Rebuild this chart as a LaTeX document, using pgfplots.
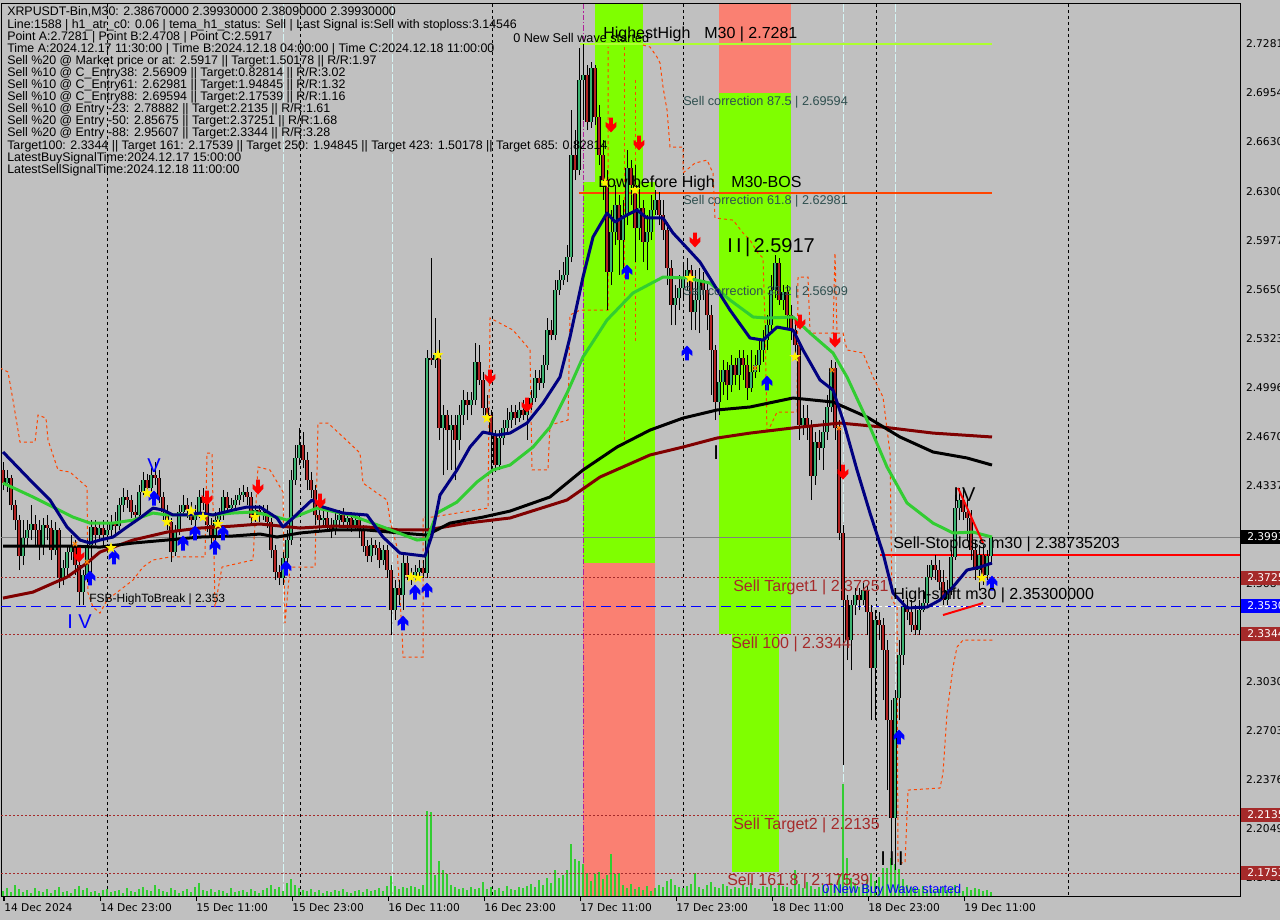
\documentclass[border=0pt]{standalone}
\usepackage{fontspec}
\setmainfont{Liberation Sans}
\newfontfamily\dejavu{DejaVu Sans}
\usepackage{pgfplots}
\usepackage{pgfplotstable}
\pgfplotsset{compat=1.18}

\definecolor{mtbg}{HTML}{C0C0C0}
\definecolor{zonegreen}{HTML}{7FFF00}
\definecolor{zonesalmon}{HTML}{FA8072}
\definecolor{bull}{HTML}{3CB371}
\definecolor{bear}{HTML}{B22222}
\definecolor{maroonma}{HTML}{800000}
\definecolor{limema}{HTML}{32CD32}
\definecolor{navyma}{HTML}{000080}
\definecolor{lvlbrown}{HTML}{A52A2A}
\definecolor{corr}{HTML}{2F4F4F}
\definecolor{trail}{HTML}{FF4500}
\definecolor{hh}{HTML}{ADFF2F}
\definecolor{sepcyan}{HTML}{D4F4F4}
\definecolor{magline}{HTML}{B0209A}

% candles: x = pixel column, o h l c in price, v = volume (px height)
\pgfplotstableread{
x o h l c v
3 2.4441 2.4494 2.4307 2.4354 6
7 2.4354 2.4441 2.4294 2.4387 9
11 2.4387 2.4407 2.4174 2.4207 5
15 2.4207 2.4241 2.4041 2.4107 12
19 2.4107 2.4141 2.3774 2.3867 8
23 2.3867 2.4107 2.3807 2.3987 5
27 2.3987 2.4107 2.3941 2.4041 7
31 2.4041 2.4207 2.3974 2.4081 4
35 2.4081 2.4141 2.3941 2.4041 9
39 2.4041 2.4107 2.3841 2.3941 6
43 2.3941 2.4121 2.3874 2.4074 5
47 2.4074 2.4141 2.3974 2.4054 8
51 2.4054 2.4107 2.3841 2.3907 4
55 2.3907 2.4094 2.3874 2.4041 7
59 2.4041 2.4054 2.3654 2.3721 10
63 2.3721 2.3841 2.3674 2.3787 5
67 2.3787 2.3941 2.3741 2.3894 6
71 2.3894 2.4007 2.3841 2.3941 4
75 2.3941 2.3974 2.3741 2.3807 8
79 2.3807 2.3841 2.3541 2.3627 11
83 2.3627 2.3774 2.3541 2.3741 7
87 2.3741 2.3974 2.3694 2.3941 9
91 2.3941 2.4107 2.3741 2.4061 5
95 2.4061 2.4107 2.3941 2.4007 6
99 2.4007 2.4094 2.3974 2.4054 4
103 2.4054 2.4107 2.3941 2.4007 7
107 2.4007 2.4094 2.3961 2.4041 8
111 2.4041 2.4141 2.3987 2.4094 5
115 2.4094 2.4161 2.4007 2.4067 6
119 2.4067 2.4254 2.4041 2.4207 7
123 2.4207 2.4321 2.4161 2.4261 4
127 2.4261 2.4307 2.4187 2.4241 9
131 2.4241 2.4274 2.4121 2.4161 6
135 2.4161 2.4207 2.4094 2.4141 5
139 2.4141 2.4341 2.4121 2.4294 8
143 2.4294 2.4427 2.4274 2.4374 10
147 2.4374 2.4414 2.4274 2.4321 7
151 2.4321 2.4454 2.4294 2.4407 6
155 2.4407 2.4494 2.4341 2.4387 12
159 2.4387 2.4441 2.4221 2.4261 8
163 2.4261 2.4294 2.4107 2.4161 6
167 2.4161 2.4207 2.4041 2.4094 5
171 2.4094 2.4121 2.3827 2.3894 9
175 2.3894 2.4074 2.3867 2.4041 7
179 2.4041 2.4207 2.4007 2.4161 4
183 2.4161 2.4274 2.4141 2.4207 6
187 2.4207 2.4254 2.4121 2.4174 8
191 2.4174 2.4227 2.4074 2.4107 5
195 2.4107 2.4207 2.4054 2.4154 10
199 2.4154 2.4307 2.4121 2.4261 14
203 2.4261 2.4321 2.4174 2.4221 7
207 2.4221 2.4254 2.4027 2.4074 6
211 2.4074 2.4121 2.3941 2.4007 8
215 2.4007 2.4161 2.3974 2.4107 5
219 2.4107 2.4187 2.4054 2.4141 7
223 2.4141 2.4307 2.4107 2.4261 6
227 2.4261 2.4294 2.4161 2.4187 4
231 2.4187 2.4254 2.4161 2.4207 9
235 2.4207 2.4274 2.4174 2.4241 5
239 2.4241 2.4321 2.4207 2.4274 6
243 2.4274 2.4341 2.4227 2.4294 7
247 2.4294 2.4327 2.4207 2.4261 5
251 2.4261 2.4294 2.4074 2.4121 8
255 2.4121 2.4207 2.4094 2.4174 6
259 2.4174 2.4207 2.4094 2.4141 4
263 2.4141 2.4207 2.4107 2.4161 7
267 2.4161 2.4207 2.4054 2.4094 9
271 2.4094 2.4121 2.3854 2.3907 12
275 2.3907 2.3941 2.3707 2.3761 8
279 2.3761 2.3807 2.3674 2.3721 10
283 2.3721 2.3894 2.3674 2.3854 6
287 2.3854 2.4041 2.3807 2.3974 14
291 2.3974 2.4441 2.3941 2.4374 18
295 2.4374 2.4607 2.4341 2.4521 12
299 2.4521 2.4721 2.4474 2.4607 9
303 2.4607 2.4694 2.4454 2.4507 7
307 2.4507 2.4561 2.4307 2.4374 6
311 2.4374 2.4427 2.4254 2.4307 8
315 2.4307 2.4341 2.4074 2.4141 5
319 2.4141 2.4187 2.4041 2.4107 7
323 2.4107 2.4174 2.4054 2.4121 4
327 2.4121 2.4161 2.4027 2.4074 6
331 2.4074 2.4121 2.3987 2.4041 5
335 2.4041 2.4161 2.4007 2.4107 7
339 2.4107 2.4174 2.4074 2.4141 6
343 2.4141 2.4187 2.4054 2.4094 8
347 2.4094 2.4161 2.4041 2.4121 5
351 2.4121 2.4161 2.4027 2.4074 4
355 2.4074 2.4141 2.4041 2.4107 6
359 2.4107 2.4141 2.3987 2.4041 7
363 2.4041 2.4074 2.3894 2.3934 5
367 2.3934 2.3974 2.3827 2.3867 8
371 2.3867 2.3987 2.3827 2.3941 6
375 2.3941 2.3974 2.3874 2.3921 7
379 2.3921 2.3961 2.3787 2.3841 9
383 2.3841 2.3941 2.3807 2.3907 6
387 2.3907 2.3941 2.3721 2.3774 11
391 2.3774 2.3807 2.3341 2.3507 21
395 2.3507 2.3707 2.3441 2.3654 11
399 2.3654 2.3707 2.3541 2.3607 8
403 2.3607 2.3874 2.3507 2.3821 10
407 2.3821 2.3867 2.3707 2.3741 9
411 2.3741 2.3787 2.3674 2.3721 11
415 2.3721 2.3807 2.3694 2.3761 10
419 2.3761 2.3841 2.3721 2.3787 8
423 2.3787 2.3841 2.3721 2.3754 12
427 2.3754 2.5241 2.3721 2.5187 86
431 2.5187 2.5854 2.5141 2.5174 85
435 2.5174 2.5454 2.5121 2.5207 22
439 2.5207 2.5307 2.4641 2.4721 36
443 2.4721 2.4874 2.4407 2.4807 27
447 2.4807 2.4841 2.4441 2.4707 23
451 2.4707 2.4807 2.4441 2.4741 12
455 2.4741 2.4807 2.4374 2.4641 10
459 2.4641 2.4874 2.4574 2.4807 8
463 2.4807 2.4974 2.4741 2.4907 9
467 2.4907 2.4961 2.4774 2.4874 7
471 2.4874 2.4961 2.4807 2.4907 10
475 2.4907 2.5287 2.4874 2.5161 8
479 2.5161 2.5274 2.5007 2.5041 9
483 2.5041 2.5094 2.4807 2.4854 15
487 2.4854 2.4941 2.4774 2.4807 8
491 2.4807 2.4841 2.4441 2.4674 10
495 2.4674 2.4707 2.4427 2.4474 7
499 2.4474 2.4707 2.4441 2.4654 9
503 2.4654 2.4774 2.4607 2.4721 6
507 2.4721 2.4854 2.4694 2.4774 11
511 2.4774 2.4874 2.4721 2.4827 8
515 2.4827 2.4874 2.4741 2.4787 7
519 2.4787 2.4894 2.4761 2.4841 10
523 2.4841 2.4907 2.4774 2.4807 9
527 2.4807 2.4921 2.4641 2.4874 11
531 2.4874 2.4974 2.4841 2.4921 13
535 2.4921 2.5107 2.4894 2.5054 10
539 2.5054 2.5107 2.4974 2.5021 17
543 2.5021 2.5207 2.4987 2.5141 12
547 2.5141 2.5454 2.5107 2.5374 19
551 2.5374 2.5441 2.5307 2.5341 14
555 2.5341 2.5707 2.5307 2.5641 27
559 2.5641 2.5774 2.5607 2.5707 19
563 2.5707 2.5827 2.5674 2.5741 22
567 2.5741 2.5941 2.5694 2.5861 27
571 2.5861 2.6841 2.5827 2.6541 53
575 2.6541 2.6707 2.6374 2.6441 38
579 2.6441 2.7254 2.6407 2.7041 36
583 2.7041 2.7281 2.6774 2.7074 33
587 2.7074 2.7141 2.6707 2.6761 24
591 2.6761 2.7161 2.6721 2.7121 16
595 2.7121 2.7141 2.6741 2.6794 23
599 2.6794 2.6874 2.6474 2.6541 25
603 2.6541 2.6641 2.6241 2.6374 18
607 2.6374 2.6441 2.5507 2.5761 22
611 2.5761 2.6174 2.5674 2.6027 43
615 2.6027 2.6341 2.5941 2.6207 23
619 2.6207 2.6274 2.5741 2.5974 24
623 2.5974 2.6241 2.5774 2.6141 12
627 2.6141 2.6574 2.6074 2.6454 9
631 2.6454 2.6507 2.6207 2.6341 13
635 2.6341 2.6474 2.5827 2.6054 8
639 2.6054 2.6341 2.5974 2.6187 10
643 2.6187 2.6241 2.5827 2.5961 7
647 2.5961 2.6141 2.5774 2.6027 11
651 2.6027 2.6274 2.5974 2.6174 6
655 2.6174 2.6307 2.6141 2.6241 9
659 2.6241 2.6294 2.6074 2.6141 12
663 2.6141 2.6241 2.5974 2.6041 10
667 2.6041 2.6094 2.5674 2.5787 16
671 2.5787 2.5841 2.5407 2.5541 18
675 2.5541 2.5674 2.5407 2.5587 12
679 2.5587 2.5741 2.5507 2.5654 10
683 2.5654 2.5807 2.5574 2.5721 9
687 2.5721 2.5854 2.5641 2.5774 11
691 2.5774 2.5807 2.5374 2.5494 13
695 2.5494 2.5774 2.5374 2.5574 24
699 2.5574 2.5787 2.5354 2.5707 10
703 2.5707 2.5761 2.5574 2.5641 8
707 2.5641 2.5694 2.5374 2.5474 12
711 2.5474 2.5541 2.4941 2.5241 15
715 2.5241 2.5274 2.4774 2.4894 10
719 2.4894 2.5107 2.4807 2.5027 9
723 2.5027 2.5174 2.4941 2.5107 13
727 2.5107 2.5161 2.4907 2.5007 11
731 2.5007 2.5207 2.4961 2.5141 8
735 2.5141 2.5187 2.5007 2.5074 10
739 2.5074 2.5241 2.4974 2.5187 9
743 2.5187 2.5241 2.5041 2.5141 12
747 2.5141 2.5207 2.4907 2.4987 10
751 2.4987 2.5241 2.4961 2.5094 14
755 2.5094 2.5207 2.5054 2.5141 9
759 2.5141 2.5307 2.5094 2.5241 8
763 2.5241 2.5374 2.5161 2.5307 11
767 2.5307 2.5474 2.5241 2.5407 10
771 2.5407 2.5741 2.5374 2.5641 12
775 2.5641 2.5874 2.5587 2.5821 9
779 2.5821 2.5854 2.5541 2.5574 14
783 2.5574 2.5674 2.5507 2.5627 11
787 2.5627 2.5674 2.5374 2.5474 10
791 2.5474 2.5541 2.5307 2.5374 8
795 2.5374 2.5441 2.5174 2.5274 27
799 2.5274 2.5307 2.4641 2.4741 13
803 2.4741 2.4874 2.4674 2.4787 9
807 2.4787 2.4874 2.4641 2.4741 15
811 2.4741 2.4774 2.4241 2.4401 11
815 2.4401 2.4694 2.4341 2.4627 8
819 2.4627 2.4707 2.4507 2.4587 10
823 2.4587 2.4774 2.4441 2.4694 12
827 2.4694 2.4941 2.4641 2.4861 9
831 2.4861 2.5174 2.4827 2.5121 14
835 2.5121 2.5161 2.4641 2.4721 11
839 2.4721 2.4774 2.3974 2.4021 22
843 2.4021 2.4074 2.2474 2.3574 113
847 2.3574 2.3607 2.3174 2.3307 39
851 2.3307 2.3574 2.3107 2.3541 19
855 2.3541 2.3654 2.3474 2.3607 14
859 2.3607 2.3654 2.3507 2.3574 10
863 2.3574 2.3687 2.3541 2.3641 12
867 2.3641 2.3674 2.3341 2.3494 18
871 2.3494 2.3541 2.2774 2.3121 24
875 2.3121 2.3507 2.2774 2.3441 16
879 2.3441 2.3494 2.3307 2.3407 20
883 2.3407 2.3454 2.2907 2.3241 29
887 2.3241 2.3307 2.2307 2.2774 29
891 2.2774 2.2907 2.1807 2.2121 39
895 2.2121 2.2974 2.1774 2.2921 33
899 2.2921 2.3307 2.2774 2.3207 28
903 2.3207 2.3574 2.3141 2.3527 18
907 2.3527 2.3587 2.3441 2.3494 12
911 2.3494 2.3574 2.3361 2.3407 10
915 2.3407 2.3541 2.3341 2.3374 9
919 2.3374 2.3574 2.3341 2.3507 8
923 2.3507 2.3641 2.3494 2.3554 11
927 2.3554 2.3807 2.3521 2.3727 7
931 2.3727 2.3841 2.3707 2.3807 9
935 2.3807 2.3874 2.3707 2.3774 6
939 2.3774 2.3841 2.3641 2.3694 8
943 2.3694 2.3774 2.3541 2.3574 10
947 2.3574 2.3707 2.3541 2.3641 7
951 2.3641 2.3907 2.3607 2.3861 9
955 2.3861 2.4274 2.3841 2.4187 12
959 2.4187 2.4321 2.4107 2.4241 8
963 2.4241 2.4307 2.4107 2.4161 6
967 2.4161 2.4241 2.3974 2.4121 10
971 2.4121 2.4174 2.3841 2.3907 7
975 2.3907 2.3974 2.3707 2.3774 9
979 2.3774 2.3941 2.3641 2.3874 8
983 2.3874 2.3941 2.3674 2.3741 6
987 2.3741 2.3907 2.3707 2.3867 7
991 2.3867 2.3993 2.3809 2.3993 5
}\candles

\pgfdeclareplotmark{dnarrow}{%
  \pgfpathmoveto{\pgfpoint{-1.4pt}{5.6pt}}%
  \pgfpathlineto{\pgfpoint{1.4pt}{5.6pt}}%
  \pgfpathlineto{\pgfpoint{1.4pt}{0.2pt}}%
  \pgfpathlineto{\pgfpoint{4.1pt}{2.3pt}}%
  \pgfpathlineto{\pgfpoint{4.1pt}{-1.1pt}}%
  \pgfpathlineto{\pgfpoint{0pt}{-5.6pt}}%
  \pgfpathlineto{\pgfpoint{-4.1pt}{-1.1pt}}%
  \pgfpathlineto{\pgfpoint{-4.1pt}{2.3pt}}%
  \pgfpathlineto{\pgfpoint{-1.4pt}{0.2pt}}%
  \pgfpathclose\pgfusepathqfill}
\pgfdeclareplotmark{uparrow}{%
  \pgfpathmoveto{\pgfpoint{-1.4pt}{-5.6pt}}%
  \pgfpathlineto{\pgfpoint{1.4pt}{-5.6pt}}%
  \pgfpathlineto{\pgfpoint{1.4pt}{-0.2pt}}%
  \pgfpathlineto{\pgfpoint{4.1pt}{-2.3pt}}%
  \pgfpathlineto{\pgfpoint{4.1pt}{1.1pt}}%
  \pgfpathlineto{\pgfpoint{0pt}{5.6pt}}%
  \pgfpathlineto{\pgfpoint{-4.1pt}{1.1pt}}%
  \pgfpathlineto{\pgfpoint{-4.1pt}{-2.3pt}}%
  \pgfpathlineto{\pgfpoint{-1.4pt}{-0.2pt}}%
  \pgfpathclose\pgfusepathqfill}
\pgfdeclareplotmark{ystar}{%
  \pgfpathmoveto{\pgfpoint{0pt}{4.4pt}}%
  \pgfpathlineto{\pgfpoint{1.03pt}{1.42pt}}%
  \pgfpathlineto{\pgfpoint{4.18pt}{1.36pt}}%
  \pgfpathlineto{\pgfpoint{1.67pt}{-0.54pt}}%
  \pgfpathlineto{\pgfpoint{2.59pt}{-3.56pt}}%
  \pgfpathlineto{\pgfpoint{0pt}{-1.76pt}}%
  \pgfpathlineto{\pgfpoint{-2.59pt}{-3.56pt}}%
  \pgfpathlineto{\pgfpoint{-1.67pt}{-0.54pt}}%
  \pgfpathlineto{\pgfpoint{-4.18pt}{1.36pt}}%
  \pgfpathlineto{\pgfpoint{-1.03pt}{1.42pt}}%
  \pgfpathclose\pgfusepathqfill}

\newcommand{\fs}[1]{\fontsize{#1}{#1}\selectfont}

\begin{document}
\begin{tikzpicture}
\useasboundingbox (0,0) rectangle (960pt,690pt);
\fill[mtbg] (0,0) rectangle (960pt,690pt);

% background objects in pixel coordinates (origin top left)
\begin{scope}[x=0.75pt, y=-0.75pt, yshift=690pt]
  \fill[zonegreen] (595,4) rectangle (643,563);
  \fill[zonegreen] (583,182) rectangle (655,563);
  \fill[zonesalmon] (583,563) rectangle (655,897);
  \fill[zonesalmon] (719,4) rectangle (791,93);
  \fill[zonegreen] (719,93) rectangle (791,634);
  \fill[zonegreen] (732,634) rectangle (779,872);
  \foreach \xx in {283,392,843,895}
    \draw[sepcyan, line width=0.75pt, dash pattern=on 6pt off 1.5pt] (\xx,4) -- (\xx,897);
  \draw[magline, line width=0.75pt, dash pattern=on 4pt off 1.5pt on 1pt off 1.5pt] (583,4) -- (583,877);
  \foreach \xx in {107,300,492,683,876,1068}
    \draw[black, line width=0.75pt, dash pattern=on 2.25pt off 2.25pt] (\xx,4) -- (\xx,897);
\end{scope}

% volume
\begin{axis}[at={(0.75pt,17.25pt)}, anchor=south west, scale only axis,
  width=929.25pt, height=669.75pt, xmin=1, xmax=1240, ymin=0, ymax=893,
  axis lines=none, ticks=none]
\addplot[forget plot, ycomb, color=limema, draw=limema, line width=0.9pt, mark=none]
  table[x=x, y=v]{\candles};
\end{axis}

% price chart
\begin{axis}[at={(0.75pt,17.25pt)}, anchor=south west, scale only axis,
  width=929.25pt, height=669.75pt,
  xmin=1, xmax=1240, ymin=2.159433, ymax=2.754766,
  axis line style={black, line width=0.75pt},
  xtick pos=bottom, ytick pos=right, tick align=outside,
  major tick length=3pt,
  xtick style={black, line width=0.75pt},
  ytick style={draw=none},
  xtick={4,100,196,292,388,484,580,676,772,868,964},
  xticklabels={14 Dec 2024,14 Dec 23:00,15 Dec 11:00,15 Dec 23:00,16 Dec 11:00,16 Dec 23:00,17 Dec 11:00,17 Dec 23:00,18 Dec 11:00,18 Dec 23:00,19 Dec 11:00},
  xticklabel style={font=\dejavu\fs{8}, anchor=north west, inner sep=0pt, yshift=-1.5pt},
  ytick={2.7281,2.6954,2.6627,2.6300,2.5973,2.5646,2.5319,2.4992,2.4665,2.4338,2.3684,2.3030,2.2703,2.2376,2.2049,2.1722},
  yticklabels={2.7281,2.6954,2.6630,2.6300,2.5977,2.5650,2.5323,2.4996,2.4670,2.4337,2.3684,2.3030,2.2703,2.2376,2.2049,2.1722},
  yticklabel style={font=\dejavu\fs{8}, anchor=west, inner sep=0pt, xshift=1.3pt},
  clip=true]

% level lines
\draw[lvlbrown, line width=0.75pt, dash pattern=on 1.5pt off 1.5pt] (axis cs:1,2.37251) -- (axis cs:1240,2.37251);
\draw[lvlbrown, line width=0.75pt, dash pattern=on 1.5pt off 1.5pt] (axis cs:1,2.3344) -- (axis cs:1240,2.3344);
\draw[lvlbrown, line width=0.75pt, dash pattern=on 1.5pt off 1.5pt] (axis cs:1,2.2135) -- (axis cs:1240,2.2135);
\draw[lvlbrown, line width=0.75pt, dash pattern=on 1.5pt off 1.5pt] (axis cs:1,2.17539) -- (axis cs:1240,2.17539);
\draw[blue, line width=0.75pt, dash pattern=on 7.5pt off 3.75pt] (axis cs:1,2.353) -- (axis cs:1240,2.353);
\draw[white, line width=0.75pt, dash pattern=on 2.25pt off 2.25pt] (axis cs:843,2.353) -- (axis cs:990,2.353);
\draw[gray, line width=0.75pt] (axis cs:1,2.3993) -- (axis cs:1240,2.3993);
\draw[red, line width=1.5pt] (axis cs:880,2.38735) -- (axis cs:1240,2.38735);
\draw[hh, line width=1.5pt] (axis cs:580,2.7281) -- (axis cs:992,2.7281);
\draw[trail, line width=1.5pt] (axis cs:579,2.6285) -- (axis cs:992,2.6285);

% trailing stop (dashed)
\addplot[trail, line width=0.75pt, dash pattern=on 2.25pt off 2.25pt] coordinates {
(0,2.5121) (8,2.5094) (13,2.4907) (20,2.4627) (35,2.4627) (38,2.4807) (46,2.4787) (48,2.4641)
(58,2.4441) (70,2.4427) (87,2.4327) (88,2.3621) (93,2.3527) (100,2.3487) (107,2.3574)
(133,2.3707) (143,2.3794) (153,2.3841) (170,2.3861) (205,2.3861) (207,2.4554) (212,2.4554)
(215,2.3527) (222,2.3794) (253,2.3841) (258,2.4461) (270,2.4441) (283,2.4294) (285,2.3421)
(290,2.3794) (315,2.3794) (318,2.4754) (328,2.4754) (343,2.4661) (360,2.4554) (363,2.4354)
(377,2.4287) (387,2.4241) (390,2.4107) (397,2.3927) (402,2.3354) (403,2.3194) (423,2.3194)
(423,2.4127) (432,2.4127) (488,2.4187) (490,2.5454) (513,2.5374) (530,2.5241) (532,2.4441)
(548,2.4441) (550,2.4741) (568,2.4774) (570,2.5474) (580,2.5507) (608,2.5507) (608,2.7261)};
\addplot[trail, line width=0.75pt, dash pattern=on 2.25pt off 2.25pt] coordinates {(624,2.7261) (624,2.4621)};
\addplot[trail, line width=0.75pt, dash pattern=on 2.25pt off 2.25pt] coordinates {(635,2.7041) (635,2.5287)};
\addplot[trail, line width=0.75pt, dash pattern=on 2.25pt off 2.25pt] coordinates {
(643,2.7274) (650,2.7261) (657,2.7194) (660,2.7154) (663,2.6994) (667,2.6841) (670,2.6594)
(683,2.6594) (683,2.6421) (695,2.6487) (707,2.6507) (713,2.6421) (715,2.6121) (733,2.6107)
(743,2.6021) (750,2.5974) (758,2.5887) (763,2.5854) (765,2.5421) (767,2.4687) (777,2.4827)
(797,2.4827) (798,2.5727) (808,2.5727) (810,2.5354) (833,2.5354) (835,2.5887) (837,2.5354)
(843,2.5354) (847,2.5241) (863,2.5221) (873,2.5061) (883,2.4927) (890,2.4554) (892,2.3574)
(897,2.3527) (898,2.1821) (905,2.1821) (908,2.2307) (940,2.2321) (943,2.2421) (947,2.2821)
(953,2.3127) (957,2.3261) (963,2.3307) (993,2.3307)};

% candles: wicks, then bodies (outline, then fill colour)
\addplot[forget plot, draw=none, mark=none,
  error bars/.cd, y dir=plus, y explicit, error mark=none,
  error bar style={draw=black, solid, line width=0.75pt}]
  table[x=x, y=l, y error expr=\thisrow{h}-\thisrow{l}]{\candles};
\addplot[forget plot, draw=none, mark=none,
  y filter/.expression={\thisrow{c}>=\thisrow{o} ? y : nan},
  error bars/.cd, y dir=plus, y explicit, error mark=none,
  error bar style={draw=black, solid, line width=2.4pt}]
  table[x=x, y=o, y error expr=\thisrow{c}-\thisrow{o}]{\candles};
\addplot[forget plot, draw=none, mark=none,
  y filter/.expression={\thisrow{c}>=\thisrow{o} ? y : nan},
  error bars/.cd, y dir=plus, y explicit, error mark=none,
  error bar style={draw=bull, solid, line width=1pt}]
  table[x=x, y=o, y error expr=\thisrow{c}-\thisrow{o}]{\candles};
\addplot[forget plot, draw=none, mark=none,
  y filter/.expression={\thisrow{c}<\thisrow{o} ? y : nan},
  error bars/.cd, y dir=plus, y explicit, error mark=none,
  error bar style={draw=black, solid, line width=2.4pt}]
  table[x=x, y=c, y error expr=\thisrow{o}-\thisrow{c}]{\candles};
\addplot[forget plot, draw=none, mark=none,
  y filter/.expression={\thisrow{c}<\thisrow{o} ? y : nan},
  error bars/.cd, y dir=plus, y explicit, error mark=none,
  error bar style={draw=bear, solid, line width=1pt}]
  table[x=x, y=c, y error expr=\thisrow{o}-\thisrow{c}]{\candles};

% moving averages
\addplot[maroonma, line width=2.25pt, line join=round] coordinates {
(3,2.3587) (33,2.3627) (67,2.3727) (87,2.3821) (100,2.3894) (133,2.3974) (167,2.4027)
(200,2.4054) (233,2.4067) (260,2.4081) (300,2.4054) (333,2.4067) (367,2.4061) (400,2.4041)
(427,2.4041) (467,2.4087) (510,2.4121) (567,2.4241) (600,2.4394) (650,2.4541) (683,2.4594)
(717,2.4654) (750,2.4687) (800,2.4727) (840,2.4754) (883,2.4727) (933,2.4687) (992,2.4661)};
\addplot[black, line width=2.25pt, line join=round] coordinates {
(3,2.3934) (67,2.3934) (100,2.3927) (133,2.3954) (167,2.3974) (200,2.3994) (233,2.4001)
(260,2.4014) (277,2.3994) (300,2.4021) (333,2.4041) (367,2.4041) (400,2.4021) (427,2.4007)
(450,2.4087) (483,2.4127) (510,2.4167) (550,2.4261) (583,2.4441) (617,2.4594) (650,2.4707)
(683,2.4787) (717,2.4841) (750,2.4861) (793,2.4921) (833,2.4894) (867,2.4794) (900,2.4661)
(933,2.4561) (967,2.4521) (992,2.4474)};
\addplot[limema, line width=2.25pt, line join=round] coordinates {
(3,2.4354) (33,2.4261) (53,2.4194) (73,2.4127) (90,2.4087) (113,2.4087) (133,2.4107)
(153,2.4154) (167,2.4141) (213,2.4141) (233,2.4154) (253,2.4161) (277,2.4127) (287,2.4107)
(317,2.4187) (350,2.4141) (383,2.4061) (417,2.3974) (427,2.3981) (437,2.4154) (457,2.4227)
(477,2.4361) (493,2.4441) (510,2.4474) (533,2.4594) (550,2.4727) (567,2.4954) (583,2.5194)
(607,2.5441) (633,2.5621) (663,2.5727) (687,2.5721) (710,2.5687) (730,2.5574) (753,2.5461)
(767,2.5454) (793,2.5461) (810,2.5354) (833,2.5221) (847,2.5061) (867,2.4774) (887,2.4461)
(907,2.4221) (933,2.4087) (953,2.4021) (973,2.4027) (992,2.3994)};
\addplot[navyma, line width=2.25pt, line join=round] coordinates {
(3,2.4561) (33,2.4354) (50,2.4241) (67,2.4061) (80,2.3974) (90,2.3954) (100,2.3974)
(113,2.3994) (127,2.4061) (140,2.4121) (153,2.4187) (163,2.4174) (173,2.4141) (187,2.4141)
(200,2.4154) (213,2.4141) (233,2.4174) (247,2.4194) (260,2.4194) (277,2.4121) (283,2.4061)
(293,2.4121) (312,2.4241) (323,2.4194) (343,2.4154) (367,2.4141) (383,2.3994) (400,2.3887)
(425,2.3867) (432,2.4007) (440,2.4274) (457,2.4441) (470,2.4594) (483,2.4694) (497,2.4674)
(510,2.4687) (527,2.4754) (543,2.4887) (560,2.5061) (570,2.5327) (583,2.5727) (593,2.5994)
(607,2.6154) (615,2.6094) (627,2.6141) (637,2.6174) (647,2.6121) (663,2.6121) (673,2.6021)
(687,2.5921) (700,2.5827) (713,2.5687) (730,2.5507) (750,2.5321) (763,2.5307) (777,2.5394)
(793,2.5374) (803,2.5241) (820,2.5041) (833,2.4974) (843,2.4774) (857,2.4441) (870,2.4154)
(883,2.3887) (893,2.3621) (907,2.3521) (927,2.3527) (940,2.3574) (953,2.3661) (967,2.3774)
(980,2.3794) (992,2.3821)};

% wave IV lines
\addplot[red, line width=1.5pt] coordinates {(958,2.4321) (983,2.3954)};
\addplot[red, line width=1.5pt] coordinates {(943,2.3474) (983,2.3554)};

% signals
\addplot[only marks, red, mark=dnarrow] coordinates {
(79,2.3874) (207,2.4254) (258,2.4327) (320,2.4234) (490,2.5061) (527,2.4874) (611,2.6741)
(639,2.6621) (695,2.5974) (800,2.5427) (835,2.5307) (843,2.4427)};
\addplot[only marks, blue, mark=uparrow] coordinates {
(90,2.3721) (114,2.3861) (154,2.4254) (183,2.3954) (195,2.4021) (215,2.3927) (223,2.4021)
(286,2.3787) (403,2.3421) (415,2.3627) (427,2.3641) (627,2.5761) (687,2.5221) (767,2.5021)
(899,2.2661) (992,2.3687)};
\addplot[only marks, yellow, mark=ystar] coordinates {
(111,2.3921) (147,2.4287) (167,2.4094) (191,2.4167) (203,2.4127) (218,2.4081) (255,2.4127)
(411,2.3727) (418,2.3721) (438,2.5207) (487,2.4787) (605,2.6354) (635,2.6307) (690,2.5721)
(795,2.5194) (982,2.3721)};
\addplot[only marks, orange, mark=x, mark size=2.2pt, line width=0.9pt] coordinates {
(75,2.3947) (87,2.3827) (755,2.5121) (832,2.5107) (839,2.4721)};
\end{axis}

% texts and price tags in pixel coordinates
\begin{scope}[x=0.75pt, y=-0.75pt, yshift=690pt]
  \begin{scope}[every node/.style={anchor=base west, inner sep=0pt, font=\fs{9.3}}]
  \node at (7,16) {XRPUSDT-Bin,M30: 2.38670000 2.39930000 2.38090000 2.39930000};
  \node at (7,28.1) {Line:1588 | h1\_atr\_c0: 0.06 | tema\_h1\_status: Sell | Last Signal is:Sell with stoploss:3.14546};
  \node at (7,40.2) {Point A:2.7281 | Point B:2.4708 | Point C:2.5917};
  \node at (7,52.3) {Time A:2024.12.17 11:30:00 | Time B:2024.12.18 04:00:00 | Time C:2024.12.18 11:00:00};
  \node at (7,64.4) {Sell \%20 @ Market price or at: 2.5917 || Target:1.50178 || R/R:1.97};
  \node at (7,76.5) {Sell \%10 @ C\_Entry38: 2.56909 || Target:0.82814 || R/R:3.02};
  \node at (7,88.6) {Sell \%10 @ C\_Entry61: 2.62981 || Target:1.94845 || R/R:1.32};
  \node at (7,100.7) {Sell \%10 @ C\_Entry88: 2.69594 || Target:2.17539 || R/R:1.16};
  \node at (7,112.8) {Sell \%10 @ Entry -23: 2.78882 || Target:2.2135 || R/R:1.61};
  \node at (7,124.9) {Sell \%20 @ Entry -50: 2.85675 || Target:2.37251 || R/R:1.68};
  \node at (7,137) {Sell \%20 @ Entry -88: 2.95607 || Target:2.3344 || R/R:3.28};
  \node at (7,149.1) {Target100: 2.3344 || Target 161: 2.17539 || Target 250: 1.94845 || Target 423: 1.50178 || Target 685: 0.82814};
  \node at (7,161.2) {LatestBuySignalTime:2024.12.17 15:00:00};
  \node at (7,173.3) {LatestSellSignalTime:2024.12.18 11:00:00};
  \end{scope}
  \begin{scope}[every node/.style={anchor=base west, inner sep=0pt}]
  \node[font=\fs{9.5}] at (513,42.5) {0 New Sell wave started};
  \node[font=\fs{12}] at (603,39) {HighestHigh};
  \node[font=\fs{12}] at (704,39) {M30 | 2.7281};
  \node[font=\fs{9.5}, text=corr] at (683,105.5) {Sell correction 87.5 | 2.69594};
  \node[font=\fs{12}] at (598,188) {Low before High};
  \node[font=\fs{12}] at (731,188) {M30-BOS};
  \node[font=\fs{9.5}, text=corr] at (683,204.5) {Sell correction 61.8 | 2.62981};
  \node[font=\fs{15}] at (727,253) {I\,I\,|\,2.5917};
  \node[font=\fs{9.5}, text=corr] at (683,295.5) {Sell correction 38.2 | 2.56909};
  \node[font=\fs{15}] at (713,460) {I};
  \node[font=\fs{15}] at (953,502) {I\,V};
  \node[font=\fs{15}, text=blue] at (147,473) {V};
  \node[font=\fs{15}, text=blue] at (67,629) {I V};
  \node[font=\fs{12}] at (893,549) {Sell-Stoploss m30 | 2.38735203};
  \node[font=\fs{12}, text=lvlbrown] at (733,592) {Sell Target1 | 2.37251};
  \node[font=\fs{12}] at (893,600) {High-shift m30 | 2.35300000};
  \node[font=\fs{9}] at (89,603) {FSB-HighToBreak | 2.353};
  \node[font=\fs{12}, text=lvlbrown] at (731,649) {Sell 100 | 2.3344};
  \node[font=\fs{12}, text=lvlbrown] at (733,830) {Sell Target2 | 2.2135};
  \node[font=\fs{15}] at (880,865) {I\,I\,I};
  \node[font=\fs{12}, text=lvlbrown] at (727,886) {Sell 161.8 | 2.17539};
  \node[font=\fs{9.5}, text=blue] at (822,893.5) {0 New Buy Wave started};
  \end{scope}
  % price tags on the scale
  \begin{scope}[every node/.style={anchor=west, inner sep=0pt, text=white, font=\dejavu\fs{8}}]
  \fill[black] (1241,530) rectangle (1281,544); \node at (1247,537) {2.3993};
  \fill[lvlbrown] (1241,571) rectangle (1281,585); \node at (1247,578) {2.3725};
  \fill[blue] (1241,599) rectangle (1281,613); \node at (1247,606) {2.3530};
  \fill[lvlbrown] (1241,627) rectangle (1281,641); \node at (1247,634) {2.3344};
  \fill[lvlbrown] (1241,808) rectangle (1281,822); \node at (1247,815) {2.2135};
  \fill[lvlbrown] (1241,866) rectangle (1281,880); \node at (1247,873) {2.1753};
  \end{scope}
\end{scope}
\end{tikzpicture}
\end{document}
